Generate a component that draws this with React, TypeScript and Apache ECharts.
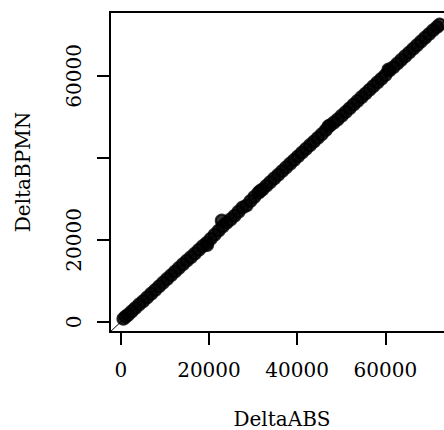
import React, { useEffect, useRef } from "react";
import * as echarts from "echarts";

const deltaABS = [
  600, 1100, 1700, 2500, 3300, 4200, 5100, 6000, 6900, 7800, 8700, 9600, 10500,
  11400, 12300, 13200, 14100, 15000, 15900, 16800, 17700, 18600, 19500, 19600,
  20400, 21300, 22200, 22900, 23100, 24000, 24900, 25800, 26700, 27600, 28500,
  29400, 30300, 31200, 31600, 32100, 33000, 33900, 34800, 35700, 36600, 37500,
  38400, 39300, 40200, 41100, 42000, 42900, 43800, 44700, 45600, 46500, 47100,
  47400, 48300, 49200, 50100, 51000, 51900, 52800, 53700, 54600, 55500, 56400,
  57300, 58200, 59100, 60000, 60700, 60900, 61800, 62700, 63600, 64500, 65400,
  66300, 67200, 68100, 69000, 69900, 70800, 71700, 72300,
];
const deltaBPMN = [
  800, 1300, 1800, 2600, 3400, 4300, 5100, 6000, 6900, 7800, 8700, 9600, 10500,
  11400, 12300, 13200, 14100, 15000, 15800, 16700, 17600, 18500, 19300, 18800,
  20300, 21300, 22300, 24700, 23300, 24200, 25000, 25900, 26900, 27900, 28400,
  29500, 30500, 31500, 31900, 32300, 33200, 34100, 35000, 35900, 36800, 37700,
  38600, 39500, 40400, 41300, 42200, 43100, 44000, 44900, 45800, 46800, 47700,
  47900, 48600, 49400, 50300, 51200, 52100, 53000, 53900, 54800, 55700, 56600,
  57500, 58400, 59300, 60200, 61500, 61300, 62100, 63000, 63900, 64800, 65700,
  66600, 67500, 68400, 69300, 70200, 71100, 71900, 72500,
];
const tickValues = [0, 20000, 40000, 60000];
const xLabelValues = [0, 20000, 40000, 60000];
const yLabelValues = [0, 20000, 60000];
const refLine = [
  [-2440, -2440],
  [75560, 75560],
];

const FONT = "DejaVu Serif";

export default function App() {
  const ref = useRef<HTMLDivElement>(null);
  useEffect(() => {
    if (!ref.current) return;
    const chart = echarts.init(ref.current, undefined, { renderer: "svg" });
    const points = deltaABS.map((x, i) => [x, deltaBPMN[i]]);
    const axisCommon = {
      type: "value",
      min: -2440,
      max: 75560,
      splitLine: { show: false },
      axisLine: { show: true, onZero: false, lineStyle: { color: "#000", width: 2 } },
      axisTick: {
        show: true,
        length: 13,
        lineStyle: { color: "#000", width: 2 },
        customValues: tickValues,
      },
      nameLocation: "middle",
      nameTextStyle: { fontFamily: FONT, fontSize: 20, color: "#000" },
    };
    chart.setOption({
      animation: false,
      backgroundColor: "#fff",
      grid: {
        left: 110,
        top: 12,
        width: 344,
        height: 320,
        outerBoundsMode: "none",
        containLabel: false,
        show: true,
        borderColor: "#000",
        borderWidth: 2,
        backgroundColor: "transparent",
      },
      xAxis: {
        ...axisCommon,
        name: "DeltaABS",
        nameGap: 77,
        axisLabel: {
          show: true,
          margin: 28,
          fontFamily: FONT,
          fontSize: 20,
          color: "#000",
          customValues: xLabelValues,
          formatter: (v: number) => String(v),
        },
      },
      yAxis: {
        ...axisCommon,
        name: "DeltaBPMN",
        nameGap: 77,
        axisLabel: {
          show: true,
          margin: 26,
          rotate: 90,
          fontFamily: FONT,
          fontSize: 20,
          color: "#000",
          customValues: yLabelValues,
          formatter: (v: number) => String(v),
        },
      },
      series: [
        {
          type: "line",
          data: refLine,
          symbol: "none",
          lineStyle: { color: "#000", width: 1 },
          silent: true,
          z: 1,
        },
        {
          type: "scatter",
          data: points,
          symbol: "circle",
          symbolSize: 12,
          itemStyle: { color: "#000", borderColor: "#000", borderWidth: 2 },
          z: 2,
        },
      ],
    });
    return () => chart.dispose();
  }, []);
  return (
    <div
      style={{
        position: "absolute",
        left: 0,
        top: 0,
        width: 444,
        height: 430,
        overflow: "hidden",
      }}
    >
      <div ref={ref} style={{ width: 470, height: 430 }} />
    </div>
  );
}
